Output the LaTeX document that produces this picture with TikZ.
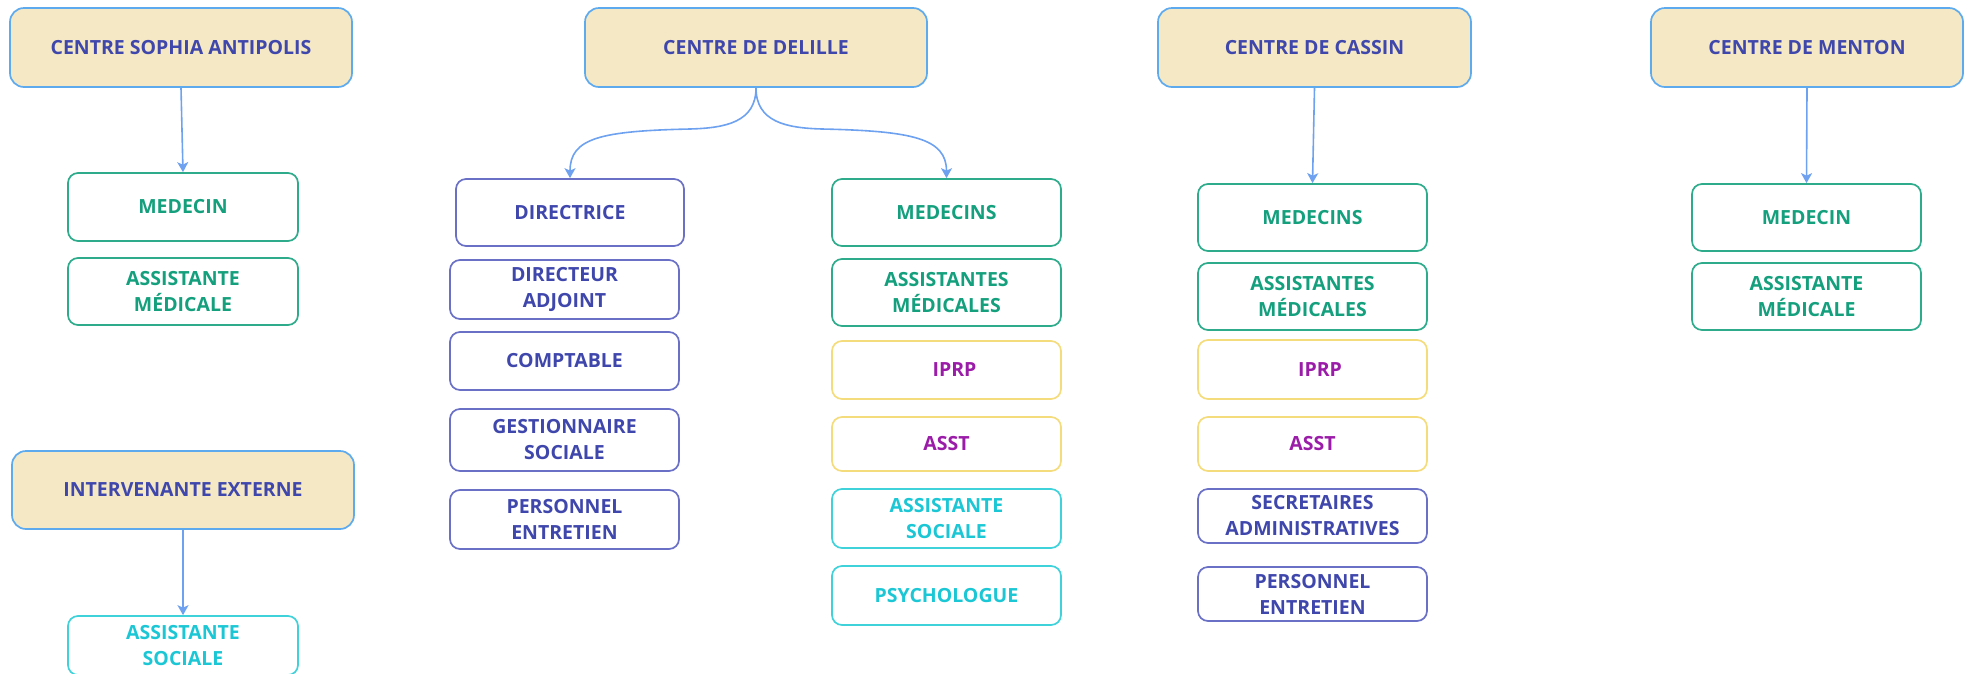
\documentclass[tikz,border=0pt]{standalone}
\usepackage{fontspec}
\setmainfont{Open Sans}
\usetikzlibrary{arrows.meta}
\definecolor{hdrfill}{HTML}{F4E8C5}
\definecolor{hdrline}{HTML}{5EAAEE}
\definecolor{indtext}{HTML}{3F47AC}
\definecolor{indline}{HTML}{6A70C6}
\definecolor{grntext}{HTML}{14A07D}
\definecolor{grnline}{HTML}{2DAB8A}
\definecolor{yelline}{HTML}{F4DC7C}
\definecolor{purtext}{HTML}{9A1CA8}
\definecolor{cyaline}{HTML}{40D2DA}
\definecolor{cyatext}{HTML}{1CC7D5}
\definecolor{arrowc}{HTML}{6EA2F0}
\begin{document}
\begin{tikzpicture}[x=1pt,y=-1pt,
  basebox/.style={rectangle, rounded corners=10pt, line width=1.7pt, align=center,
    inner sep=0pt, fill=white, font=\fontsize{19.5}{26}\selectfont\bfseries},
  hdr/.style={basebox, draw=hdrline, fill=hdrfill, text=indtext, rounded corners=14pt,
    minimum width=342pt, minimum height=79pt},
  grnbox/.style={basebox, draw=grnline, text=grntext, minimum width=229pt},
  indbox/.style={basebox, draw=indline, text=indtext, minimum width=229pt},
  yelbox/.style={basebox, draw=yelline, text=purtext, minimum width=229pt},
  cyabox/.style={basebox, draw=cyaline, text=cyatext, minimum width=229pt},
  conn/.style={draw=arrowc, line width=1.6pt, -{Stealth[length=10pt,width=11pt,inset=2.5pt]}}
]
\useasboundingbox (0,0) rectangle (1968,673);
\clip (0,0) rectangle (1968,673);

% headers
\node[hdr] (soph) at (181,47.5) {CENTRE SOPHIA ANTIPOLIS};
\node[hdr] (delille) at (756,47.5) {CENTRE DE DELILLE};
\node[hdr, minimum width=313pt] (cassin) at (1314.5,47.5) {CENTRE DE CASSIN};
\node[hdr, minimum width=312pt] (menton) at (1807,47.5) {CENTRE DE MENTON};
\node[hdr, minimum height=78pt] (interv) at (183,490) {INTERVENANTE EXTERNE};

% Sophia
\node[grnbox, minimum width=230pt, minimum height=68pt] (s1) at (183,207) {MEDECIN};
\node[grnbox, minimum width=230pt, minimum height=67pt] (s2) at (183,291.5) {ASSISTANTE\\MÉDICALE};
\node[cyabox, minimum width=230pt, minimum height=59pt] (i1) at (183,645.5) {ASSISTANTE\\SOCIALE};

% Delille left
\node[indbox, minimum width=228pt, minimum height=67pt] (d1) at (570,212.5) {DIRECTRICE};
\node[indbox, minimum height=59pt] (d2) at (564.5,289.5) {DIRECTEUR\\ADJOINT};
\node[indbox, minimum height=58pt] (d3) at (564.5,361) {COMPTABLE};
\node[indbox, minimum height=62pt] (d4) at (564.5,440) {GESTIONNAIRE\\SOCIALE};
\node[indbox, minimum height=59pt] (d5) at (564.5,519.5) {PERSONNEL\\ENTRETIEN};

% Delille right
\node[grnbox, minimum height=67pt] (m1) at (946.5,212.5) {MEDECINS};
\node[grnbox, minimum height=67pt] (m2) at (946.5,292.5) {ASSISTANTES\\MÉDICALES};
\node[yelbox, minimum height=58pt] (m3) at (946.5,370) {\hspace*{16pt}IPRP};
\node[yelbox, minimum height=54pt] (m4) at (946.5,444) {ASST};
\node[cyabox, minimum height=59pt] (m5) at (946.5,518.5) {ASSISTANTE\\SOCIALE};
\node[cyabox, minimum height=59pt] (m6) at (946.5,595.5) {PSYCHOLOGUE};

% Cassin
\node[grnbox, minimum height=67pt] (c1) at (1312.5,217.5) {MEDECINS};
\node[grnbox, minimum height=67pt] (c2) at (1312.5,296.5) {ASSISTANTES\\MÉDICALES};
\node[yelbox, minimum height=59pt] (c3) at (1312.5,369.5) {\hspace*{15pt}IPRP};
\node[yelbox, minimum height=54pt] (c4) at (1312.5,444) {ASST};
\node[indbox, minimum height=54pt] (c5) at (1312.5,516) {SECRETAIRES\\ADMINISTRATIVES};
\node[indbox, minimum height=54pt] (c6) at (1312.5,594) {PERSONNEL\\ENTRETIEN};

% Menton
\node[grnbox, minimum height=67pt] (n1) at (1806.5,217.5) {MEDECIN};
\node[grnbox, minimum height=67pt] (n2) at (1806.5,296.5) {ASSISTANTE\\MÉDICALE};

% connectors
\coordinate (bl) at (690,129);
\coordinate (br) at (822,129);
\draw[conn] (soph.south) -- (s1.north);
\draw[conn] (interv.south) -- (i1.north);
\draw[conn] (cassin.south) -- (c1.north);
\draw[conn] (menton.south) -- (n1.north);
\draw[conn] (delille.south) .. controls +(0,34) and +(36,-1) .. (bl)
  .. controls +(-90,2) and +(0,-40) .. (d1.north);
\draw[conn] (delille.south) .. controls +(0,34) and +(-36,-1) .. (br)
  .. controls +(90,2) and +(0,-40) .. (m1.north);
\end{tikzpicture}
\end{document}
